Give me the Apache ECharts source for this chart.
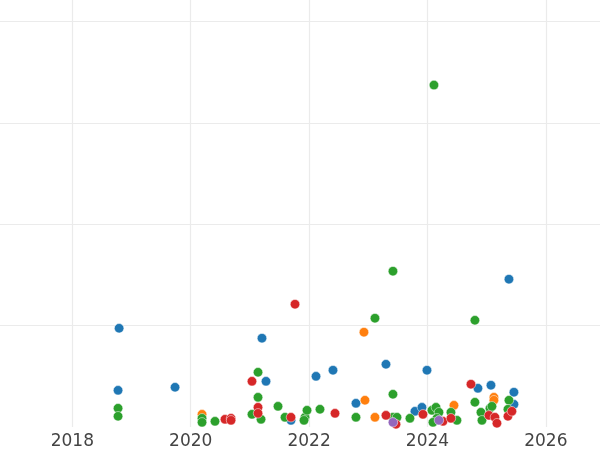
<!DOCTYPE html>
<html>
<head>
<meta charset="utf-8">
<script src="https://cdn.jsdelivr.net/npm/echarts@6/dist/echarts.min.js"></script>
<style>
  html, body { margin: 0; padding: 0; background: #fff; }
  #chart { width: 600px; height: 450px; }
</style>
</head>
<body>
<div id="chart"></div>
<script>
// [year, value]
const blueData = [
  [2018.790, 0.974], [2018.772, 0.362], [2019.735, 0.392], [2021.204, 0.876],
  [2021.272, 0.451], [2021.694, 0.066], [2022.117, 0.500], [2022.404, 0.560],
  [2022.792, 0.234], [2023.299, 0.619], [2023.992, 0.560], [2023.789, 0.155],
  [2023.907, 0.194], [2024.853, 0.382], [2025.073, 0.412], [2025.461, 0.343],
  [2025.461, 0.224], [2025.377, 1.458]
];
const orangeData = [
  [2022.927, 0.935], [2022.944, 0.264], [2023.113, 0.096], [2024.448, 0.214],
  [2025.123, 0.293], [2025.123, 0.264], [2020.191, 0.125]
];
const greenData = [
  [2024.110, 3.373], [2023.417, 1.537], [2023.113, 1.073], [2024.802, 1.053],
  [2021.137, 0.540], [2018.772, 0.185], [2018.772, 0.106], [2020.191, 0.086],
  [2020.191, 0.046], [2020.410, 0.056], [2021.137, 0.293], [2021.035, 0.125],
  [2021.188, 0.076], [2021.475, 0.204], [2021.593, 0.096], [2021.931, 0.096],
  [2021.914, 0.066], [2021.965, 0.165], [2022.184, 0.175], [2022.792, 0.096],
  [2023.417, 0.323], [2023.417, 0.096], [2023.485, 0.096], [2023.704, 0.086],
  [2024.076, 0.165], [2024.144, 0.194], [2024.194, 0.145], [2024.160, 0.086],
  [2024.093, 0.046], [2024.397, 0.145], [2024.498, 0.066], [2024.802, 0.244],
  [2024.904, 0.145], [2024.921, 0.066], [2025.056, 0.185], [2025.090, 0.204],
  [2025.377, 0.264], [2025.360, 0.175]
];
const redData = [
  [2021.762, 1.211], [2021.035, 0.451], [2021.137, 0.194], [2021.137, 0.135],
  [2020.579, 0.076], [2020.681, 0.086], [2020.681, 0.066], [2021.694, 0.096],
  [2022.438, 0.135], [2023.299, 0.115], [2023.468, 0.027], [2023.924, 0.125],
  [2024.262, 0.056], [2024.397, 0.086], [2024.735, 0.422], [2025.039, 0.115],
  [2025.140, 0.096], [2025.174, 0.037], [2025.360, 0.106], [2025.427, 0.155]
];
const purpleData = [
  [2023.417, 0.046], [2024.194, 0.066]
];

const colors = ['#1f77b4', '#ff7f0e', '#2ca02c', '#d62728', '#9467bd'];
const seriesData = [blueData, orangeData, greenData, redData, purpleData];

const chart = echarts.init(document.getElementById('chart'));

const option = {
  animation: false,
  backgroundColor: '#fff',
  grid: {
    left: -46,
    right: -5,
    top: 0,
    bottom: 23,
    outerBoundsMode: 'none'
  },
  xAxis: {
    type: 'value',
    min: 2016,
    max: 2027,
    interval: 2,
    axisLine: { show: false },
    axisTick: { show: false },
    axisLabel: {
      color: '#444',
      fontSize: 17,
      fontFamily: 'DejaVu Sans',
      margin: 6,
      showMaxLabel: false,
      formatter: v => String(v)
    },
    splitLine: {
      show: true,
      showMaxLine: false,
      lineStyle: { color: '#ebebeb', width: 1.2 }
    }
  },
  yAxis: {
    type: 'value',
    min: 0,
    max: 4.212,
    interval: 1,
    axisLine: { show: false },
    axisTick: { show: false },
    axisLabel: { show: false },
    splitLine: {
      show: true,
      showMinLine: false,
      showMaxLine: false,
      lineStyle: { color: '#ebebeb', width: 1.2 }
    }
  },
  series: seriesData.map((d, i) => ({
    type: 'scatter',
    data: d,
    symbolSize: 9.5,
    itemStyle: {
      color: colors[i],
      opacity: 1,
      borderColor: '#fff',
      borderWidth: 0.5
    }
  }))
};

chart.setOption(option);
</script>
</body>
</html>
